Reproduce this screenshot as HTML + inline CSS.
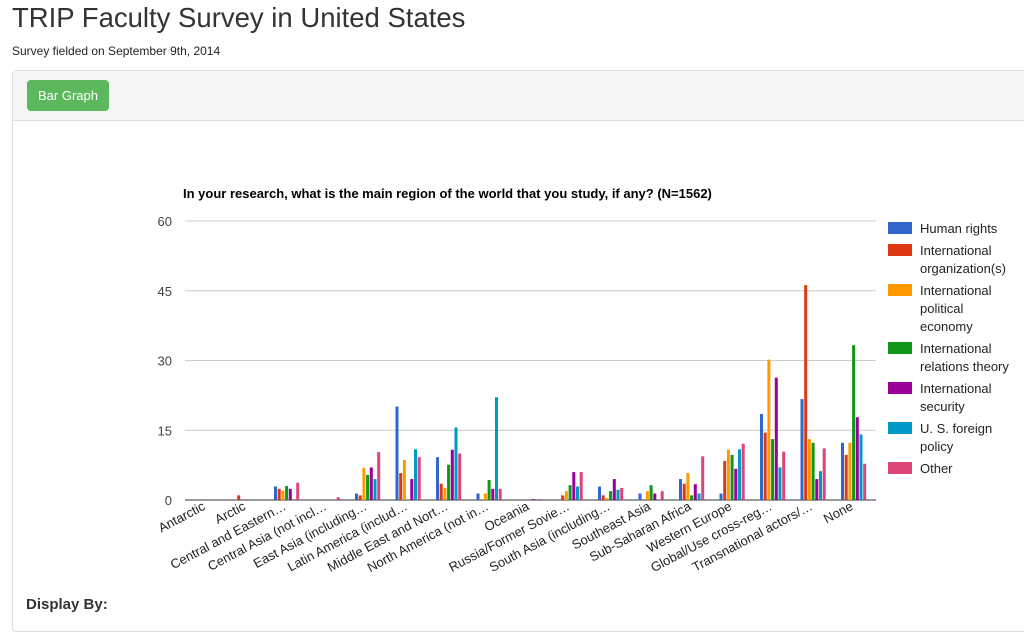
<!DOCTYPE html>
<html><head><style>
body{margin:0;width:1024px;height:606px;overflow:hidden;background:#fff;font-family:"Liberation Sans",Arial,sans-serif;color:#333;position:relative}
h1{position:absolute;left:12px;top:2px;margin:0;font-size:27.5px;font-weight:normal;color:#333}
.sub{position:absolute;left:12px;top:44px;font-size:12px;color:#222}
.panel{position:absolute;left:12px;top:70px;width:1030px;height:560px;border:1px solid #ddd;border-radius:4px}
.ph{height:49px;background:#f5f5f5;border-bottom:1px solid #ddd}
.btn{position:absolute;left:14px;top:9px;width:82px;height:31px;background:#5cb85c;border-radius:4px;color:#fff;font-size:13px;line-height:31px;text-align:center}
.disp{position:absolute;left:26px;top:596px;font-size:15px;font-weight:bold;color:#333}
svg{position:absolute;left:0;top:0}
</style></head><body>
<h1>TRIP Faculty Survey in United States</h1>
<div class="sub">Survey fielded on September 9th, 2014</div>
<div class="panel"><div class="ph"><div class="btn">Bar Graph</div></div></div>
<div class="disp">Display By:</div>
<svg id="s" width="1024" height="606" font-family="Liberation Sans, Arial, sans-serif"></svg>
<script>
const cats=["Antarctic","Arctic","Central and Eastern…","Central Asia (not incl…","East Asia (including…","Latin America (includ…","Middle East and Nort…","North America (not in…","Oceania","Russia/Former Sovie…","South Asia (including…","Southeast Asia","Sub-Saharan Africa","Western Europe","Global/Use cross-reg…","Transnational actors/…","None"];
const d=[[0,0,0,0,0,0,0],[0,1,0,0,0,0,0],[2.9,2.4,2,3,2.4,0,3.7],[0,0,0,0,0,0,0.6],[1.4,1,6.9,5.4,7,4.5,10.3],[20.1,5.8,8.6,0,4.5,10.9,9.2],[9.2,3.5,2.6,7.6,10.8,15.6,10],[1.4,0,1.4,4.3,2.4,22.1,2.4],[0,0,0,0,0.2,0,0.2],[0,1,1.9,3.2,6,2.9,6],[2.9,1,0.4,1.9,4.5,2.2,2.6],[1.4,0,1.9,3.2,1.4,0,1.9],[4.5,3.5,5.8,1,3.4,1.4,9.4],[1.4,8.4,10.8,9.7,6.7,10.9,12.1],[18.5,14.5,30.2,13.1,26.3,7,10.4],[21.7,46.2,13.1,12.3,4.5,6.2,11.1],[12.3,9.7,12.3,33.3,17.8,14.1,7.8]];
const col=["#3366cc","#dc3912","#ff9900","#109618","#990099","#0099c6","#dd4477"];
const leg=[["Human rights"],["International","organization(s)"],["International","political","economy"],["International","relations theory"],["International","security"],["U. S. foreign","policy"],["Other"]];
let h='<text x="183" y="198" font-size="13" font-weight="bold" fill="#000">In your research, what is the main region of the world that you study, if any? (N=1562)</text>';
[0,15,30,45,60].forEach(v=>{const y=500-v*4.65;h+=`<line x1="185" x2="876" y1="${y}" y2="${y}" stroke="${v?'#ccc':'#333'}" stroke-width="1"/><text x="172" y="${y+5}" font-size="13" text-anchor="end" fill="#444">${v}</text>`});
d.forEach((g,i)=>{const x0=193+i*40.5;g.forEach((v,j)=>{if(v>0)h+=`<rect x="${x0+j*3.7}" y="${500-v*4.65}" width="3" height="${v*4.65}" fill="${col[j]}"/>`});
const cx=x0+13;h+=`<text transform="translate(${cx},${509}) rotate(-28)" font-size="13" text-anchor="end" fill="#222">${cats[i]}</text>`});
let y=222;leg.forEach((l,j)=>{h+=`<rect x="888" y="${y}" width="24" height="12" fill="${col[j]}"/>`;l.forEach((t,k)=>{h+=`<text x="920" y="${y+11+k*18}" font-size="13" fill="#222">${t}</text>`});y+=l.length*18+4;});
document.getElementById('s').innerHTML=h;
</script>
</body></html>
